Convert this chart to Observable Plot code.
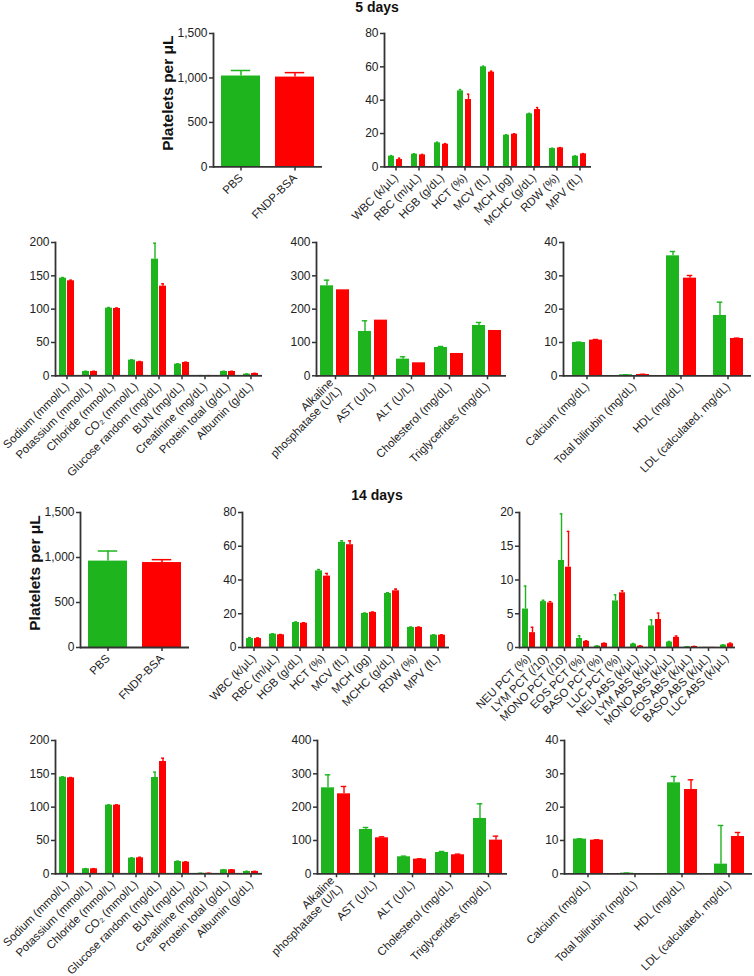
<!DOCTYPE html>
<html><head><meta charset="utf-8">
<script src="https://cdn.jsdelivr.net/npm/d3@7"></script>
<script src="https://cdn.jsdelivr.net/npm/@observablehq/plot@0.6"></script>
<style>
html,body{margin:0;padding:0;background:#fff;}
#root{position:relative;width:754px;height:976px;overflow:hidden;font-family:'Liberation Sans',Arial,sans-serif;color:#222;}
.panel{position:absolute;}
.panel svg{overflow:visible !important;background:transparent !important;}
.title{position:absolute;left:277px;width:200px;text-align:center;font-weight:bold;font-size:14px;line-height:16px;color:#111;}
</style></head><body><div id="root">
<div class="title" style="top:-1px">5 days</div>
<div class="title" style="top:487px">14 days</div>
</div>
<script>
const GREEN = "#1db41d", RED = "#ff0000", AXIS = "#333";
const groups = ["PBS", "FNDP-BSA"];

// Platelets
const plt5 = [1022, 1010], plt5Err = [62, 50];
const plt14 = [960, 944], plt14Err = [112, 32];
const pltTicks = [0, 500, 1000, 1500];

// Hematology
const hemaCats = ["WBC (k/μL)", "RBC (m/μL)", "HGB (g/dL)", "HCT (%)", "MCV (fL)", "MCH (pg)", "MCHC (g/dL)", "RDW (%)", "MPV (fL)"];
const hema5Pbs = [6.4, 7.6, 14.4, 45.6, 60.0, 19.0, 31.8, 11.0, 6.4];
const hema5PbsErr = [0.4, 0.3, 0.4, 0.8, 0.4, 0.3, 0.3, 0.2, 0.2];
const hema5Fndp = [4.4, 7.2, 13.6, 40.4, 56.8, 19.6, 34.4, 11.4, 7.8];
const hema5FndpErr = [0.8, 0.3, 0.4, 3.2, 0.6, 0.3, 1.2, 0.2, 0.2];
const hema14Pbs = [5.3, 7.9, 14.8, 45.4, 62.3, 20.2, 32.0, 11.9, 7.3];
const hema14PbsErr = [0.6, 0.2, 0.3, 0.8, 0.9, 0.2, 0.5, 0.2, 0.2];
const hema14Fndp = [5.3, 7.5, 14.4, 42.3, 60.9, 20.8, 33.6, 11.9, 7.3];
const hema14FndpErr = [0.4, 0.2, 0.3, 1.6, 2.3, 0.2, 1.0, 0.2, 0.2];
const hemaTicks = [0, 20, 40, 60, 80];

// Chemistry 1
const chem1Cats = ["Sodium (mmol/L)", "Potassium (mmol/L)", "Chloride (mmol/L)", "CO₂ (mmol/L)", "Glucose random (mg/dL)", "BUN (mg/dL)", "Creatinine (mg/dL)", "Protein total (g/dL)", "Albumin (g/dL)"];
const chem1d5Pbs = [146.5, 6.5, 101.5, 23.5, 175, 17.5, 0.3, 6.5, 2.5];
const chem1d5PbsErr = [1, 0.3, 1, 0.5, 24, 0.5, 0.05, 0.2, 0.2];
const chem1d5Fndp = [142.5, 6.5, 101, 21, 134.5, 20, 0.3, 6.5, 3.5];
const chem1d5FndpErr = [1, 0.3, 0.8, 0.5, 3.5, 0.5, 0.05, 0.2, 0.2];
const chem1d14Pbs = [145, 7.5, 103, 23.5, 144.5, 18.5, 0.8, 6, 3.5];
const chem1d14PbsErr = [0.5, 0.3, 0.5, 0.5, 8, 0.5, 0.1, 0.2, 0.2];
const chem1d14Fndp = [144, 7.5, 103, 24, 168.5, 17.5, 0.8, 6, 3.5];
const chem1d14FndpErr = [0.5, 0.3, 0.5, 0.8, 5, 0.5, 0.1, 0.2, 0.2];
const chem1Ticks = [0, 50, 100, 150, 200];

// Chemistry 2
const chem2Cats = ["Alkaline\nphosphatase (U/L)", "AST (U/L)", "ALT (U/L)", "Cholesterol (mg/dL)", "Triglycerides (mg/dL)"];
const chem2d5Pbs = [270, 133, 50, 85, 151];
const chem2d5PbsErr = [17, 32, 7, 3, 9];
const chem2d5Fndp = [258, 167, 39, 67, 136];
const chem2d5FndpErr = [0, 0, 0, 0, 0];
const chem2d14Pbs = [258, 133, 51, 64, 166];
const chem2d14PbsErr = [39, 6, 2, 3, 44];
const chem2d14Fndp = [240, 108, 44, 57, 101];
const chem2d14FndpErr = [22, 3, 1, 2, 12];
const chem2Ticks = [0, 100, 200, 300, 400];

// Chemistry 3
const chem3Cats = ["Calcium (mg/dL)", "Total bilirubin (mg/dL)", "HDL (mg/dL)", "LDL (calculated, mg/dL)"];
const chem3d5Pbs = [10.0, 0.3, 36.0, 18.1];
const chem3d5PbsErr = [0.1, 0.02, 1.3, 4.0];
const chem3d5Fndp = [10.7, 0.4, 29.3, 11.2];
const chem3d5FndpErr = [0.2, 0.05, 0.8, 0.1];
const chem3d14Pbs = [10.4, 0.2, 27.3, 2.9];
const chem3d14PbsErr = [0.1, 0.02, 1.9, 11.6];
const chem3d14Fndp = [10.1, 0.05, 25.3, 11.2];
const chem3d14FndpErr = [0.1, 0, 2.9, 1.2];
const chem3Ticks = [0, 10, 20, 30, 40];

// Differential (14 days)
const diffCats = ["NEU PCT (%)", "LYM PCT (/10)", "MONO PCT (/10)", "EOS PCT (%)", "BASO PCT (%)", "LUC PCT (%)", "NEU ABS (k/μL)", "LYM ABS (k/μL)", "MONO ABS (k/μL)", "EOS ABS (k/μL)", "BASO ABS (k/μL)", "LUC ABS (k/μL)"];
const diffPbs = [5.7, 6.8, 12.9, 1.33, 0.2, 6.9, 0.5, 3.2, 0.8, 0.1, 0.02, 0.35];
const diffPbsErr = [3.4, 0.2, 6.9, 0.4, 0.05, 0.9, 0.1, 0.9, 0.1, 0.02, 0, 0.05];
const diffFndp = [2.2, 6.6, 11.9, 0.9, 0.6, 8.1, 0.2, 4.15, 1.5, 0.15, 0.02, 0.55];
const diffFndpErr = [0.8, 0.2, 5.3, 0.1, 0.05, 0.3, 0.05, 0.95, 0.2, 0.02, 0, 0.1];
const diffTicks = [0, 5, 10, 15, 20];

const root = document.getElementById("root");
const STYLE = {fontFamily: "'Liberation Sans', Arial, sans-serif", fontSize: "11px", color: "#222", background: "transparent", overflow: "visible"};
const commaFmt = d3.format(",");

function place(node, left, top) {
  const div = document.createElement("div");
  div.className = "panel";
  div.style.left = left + "px";
  div.style.top = top + "px";
  div.appendChild(node);
  root.appendChild(div);
}

function rowsOf(cats, pbs, pbsErr, fndp, fndpErr) {
  const out = [];
  cats.forEach((c, i) => {
    out.push({cat: c, group: groups[0], v: pbs[i], e: pbsErr[i]});
    out.push({cat: c, group: groups[1], v: fndp[i], e: fndpErr[i]});
  });
  return out;
}

function grouped(p) {
  const ML = 45, MR = 2, MT = 8, MB = 130;
  const w = p.x1 - p.x0, h = p.yBot - p.yTop;
  const rows = rowsOf(p.cats, p.pbs, p.pbsErr, p.fndp, p.fndpErr);
  const errRows = rows.filter(d => d.e > 0);
  const step = w / p.cats.length;
  const s = step / (2 - p.pi + 2 * p.po);
  const bw = s * (1 - p.pi);
  const ci = bw * 0.28;
  const chart = Plot.plot({
    width: ML + w + MR, height: MT + h + MB,
    marginLeft: ML, marginRight: MR, marginTop: MT, marginBottom: MB,
    style: STYLE,
    fx: {domain: p.cats, padding: 0, label: null},
    x: {domain: groups, paddingInner: p.pi, paddingOuter: p.po, axis: null},
    y: {domain: [0, p.ticks[p.ticks.length - 1]], label: null},
    color: {domain: groups, range: [GREEN, RED]},
    marks: [
      Plot.barY(rows, {fx: "cat", x: "group", y: "v", fill: "group"}),
      Plot.ruleX(errRows, {fx: "cat", x: "group", y1: "v", y2: d => d.v + d.e, stroke: "group", strokeWidth: 1.4}),
      Plot.tickY(errRows, {fx: "cat", x: "group", y: d => d.v + d.e, stroke: "group", strokeWidth: 1.4, insetLeft: ci, insetRight: ci}),
      Plot.ruleY([0], {stroke: AXIS, strokeWidth: 1.8}),
      Plot.frame({anchor: "left", facetAnchor: "left", stroke: AXIS, strokeWidth: 1.8}),
      Plot.axisY({ticks: p.ticks, tickFormat: commaFmt, tickSize: 4, tickPadding: 2, label: null, stroke: AXIS, strokeWidth: 1.5, fontSize: 12}),
      Plot.axisFx({anchor: "bottom", tickSize: 4, tickPadding: 5, tickRotate: -45, textAnchor: "end", label: null, stroke: AXIS, strokeWidth: 1.5, fontSize: 11.5})
    ]
  });
  place(chart, p.x0 - ML, p.yTop - MT);
}

function platelets(p) {
  const ML = 90, MR = 3, MT = 8, MB = 80;
  const w = p.x1 - p.x0, h = p.yBot - p.yTop;
  const pi = 0.278, po = 0.148;
  const rows = groups.map((g, i) => ({group: g, v: p.vals[i], e: p.errs[i]}));
  const step = w / (2 - pi + 2 * po);
  const bw = step * (1 - pi);
  const chart = Plot.plot({
    width: ML + w + MR, height: MT + h + MB,
    marginLeft: ML, marginRight: MR, marginTop: MT, marginBottom: MB,
    style: STYLE,
    x: {domain: groups, paddingInner: pi, paddingOuter: po, label: null},
    y: {domain: [0, pltTicks[pltTicks.length - 1]], label: null},
    color: {domain: groups, range: [GREEN, RED]},
    marks: [
      Plot.barY(rows, {x: "group", y: "v", fill: "group"}),
      Plot.ruleX(rows, {x: "group", y1: "v", y2: d => d.v + d.e, stroke: "group", strokeWidth: 1.5}),
      Plot.tickY(rows, {x: "group", y: d => d.v + d.e, stroke: "group", strokeWidth: 1.5, insetLeft: bw * 0.25, insetRight: bw * 0.25}),
      Plot.ruleY([0], {stroke: AXIS, strokeWidth: 1.8}),
      Plot.frame({anchor: "left", stroke: AXIS, strokeWidth: 1.8}),
      Plot.axisY({ticks: pltTicks, tickFormat: commaFmt, tickSize: 4, tickPadding: 2, label: null, stroke: AXIS, strokeWidth: 1.5, fontSize: 12}),
      Plot.axisX({tickSize: 4, tickPadding: 5, tickRotate: -45, textAnchor: "end", label: null, stroke: AXIS, strokeWidth: 1.5, fontSize: 11.5}),
      Plot.text(["Platelets per μL"], {text: d => d, frameAnchor: "left", textAnchor: "middle", lineAnchor: "middle", dx: -45, dy: -7, rotate: -90, fontWeight: "bold", fontSize: 15.5, fill: "#111"})
    ]
  });
  place(chart, p.x0 - ML, p.yTop - MT);
}

// Row 1 (5 days)
platelets({x0: 213, x1: 322, yTop: 33.3, yBot: 166.7, vals: plt5, errs: plt5Err});
grouped({x0: 382, x1: 592, yTop: 33.3, yBot: 166.7, ticks: hemaTicks, cats: hemaCats,
  pbs: hema5Pbs, pbsErr: hema5PbsErr, fndp: hema5Fndp, fndpErr: hema5FndpErr, pi: 0.2, po: 0.5});
// Row 2 (5 days chemistry)
grouped({x0: 53, x1: 263, yTop: 241.7, yBot: 375, ticks: chem1Ticks, cats: chem1Cats,
  pbs: chem1d5Pbs, pbsErr: chem1d5PbsErr, fndp: chem1d5Fndp, fndpErr: chem1d5FndpErr, pi: 0.18, po: 0.37});
grouped({x0: 314, x1: 508, yTop: 241.7, yBot: 375, ticks: chem2Ticks, cats: chem2Cats,
  pbs: chem2d5Pbs, pbsErr: chem2d5PbsErr, fndp: chem2d5Fndp, fndpErr: chem2d5FndpErr, pi: 0.18, po: 0.27});
grouped({x0: 562, x1: 752, yTop: 241.7, yBot: 375, ticks: chem3Ticks, cats: chem3Cats,
  pbs: chem3d5Pbs, pbsErr: chem3d5PbsErr, fndp: chem3d5Fndp, fndpErr: chem3d5FndpErr, pi: 0.245, po: 0.47});
// Row 3 (14 days)
platelets({x0: 80, x1: 189, yTop: 511.7, yBot: 646.7, vals: plt14, errs: plt14Err});
grouped({x0: 240, x1: 451, yTop: 511.7, yBot: 646.7, ticks: hemaTicks, cats: hemaCats,
  pbs: hema14Pbs, pbsErr: hema14PbsErr, fndp: hema14Fndp, fndpErr: hema14FndpErr, pi: 0.16, po: 0.5});
grouped({x0: 514, x1: 739, yTop: 511.7, yBot: 646.7, ticks: diffTicks, cats: diffCats,
  pbs: diffPbs, pbsErr: diffPbsErr, fndp: diffFndp, fndpErr: diffFndpErr, pi: 0.2, po: 0.35});
// Row 4 (14 days chemistry)
grouped({x0: 53, x1: 263, yTop: 740, yBot: 873.3, ticks: chem1Ticks, cats: chem1Cats,
  pbs: chem1d14Pbs, pbsErr: chem1d14PbsErr, fndp: chem1d14Fndp, fndpErr: chem1d14FndpErr, pi: 0.18, po: 0.37});
grouped({x0: 316, x1: 508, yTop: 740, yBot: 873.3, ticks: chem2Ticks, cats: chem2Cats,
  pbs: chem2d14Pbs, pbsErr: chem2d14PbsErr, fndp: chem2d14Fndp, fndpErr: chem2d14FndpErr, pi: 0.18, po: 0.27});
grouped({x0: 563, x1: 752, yTop: 740, yBot: 873.3, ticks: chem3Ticks, cats: chem3Cats,
  pbs: chem3d14Pbs, pbsErr: chem3d14PbsErr, fndp: chem3d14Fndp, fndpErr: chem3d14FndpErr, pi: 0.245, po: 0.47});
</script></body></html>
